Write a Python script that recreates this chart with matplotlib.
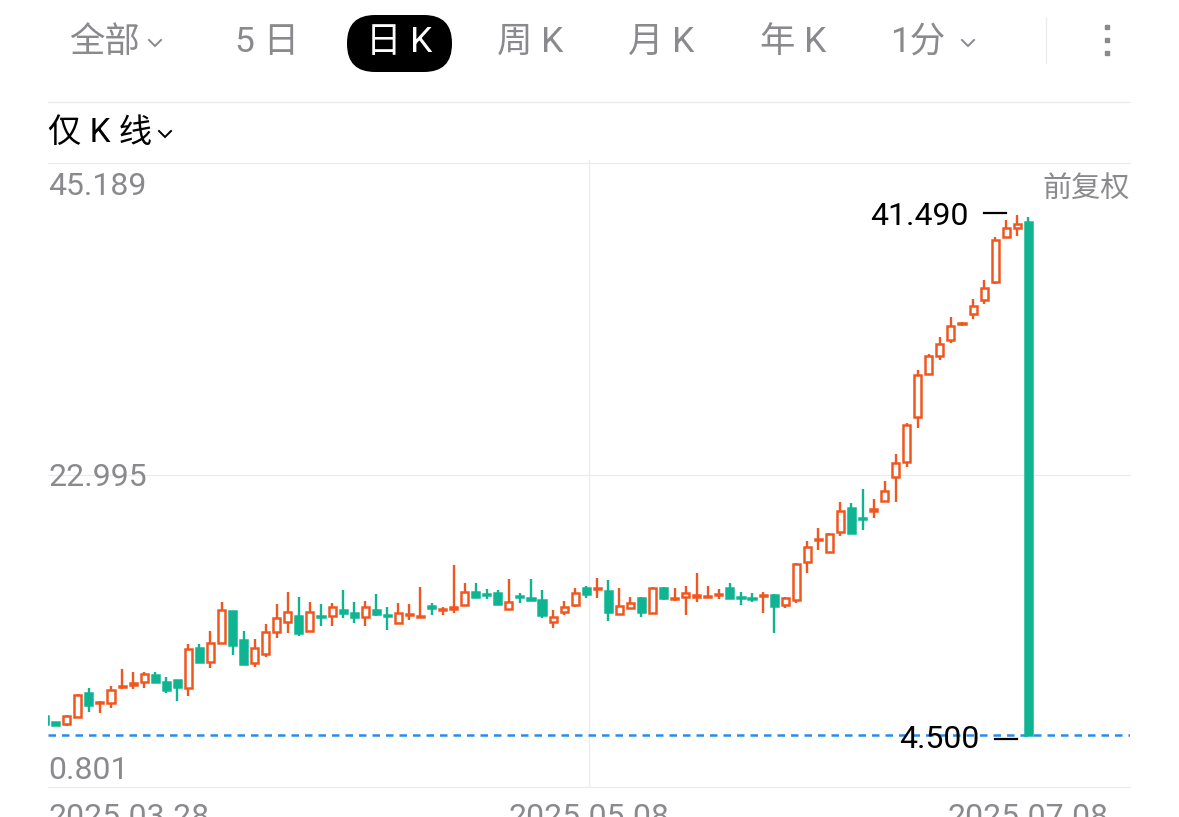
import numpy as np
import matplotlib
matplotlib.use("Agg")
import matplotlib.pyplot as plt
import matplotlib.transforms as mtransforms
from matplotlib.patches import Rectangle, FancyBboxPatch

plt.rcParams['font.family'] = ['Roboto', 'Noto Sans CJK SC', 'DejaVu Sans']

# daily candles (forward adjusted), first one is half hidden at the left edge
opens = [5.85, 5.42, 5.28, 5.80, 7.46, 6.78, 6.75, 7.91, 8.09, 8.29,
         8.77, 8.29, 8.41, 7.82, 10.66, 9.71, 11.06, 13.32, 11.25, 9.60,
         10.26, 11.84, 12.56, 12.96, 11.89, 13.00, 12.96, 13.39, 13.15, 12.91,
         13.39, 13.07, 12.44, 13.03, 12.89, 13.67, 13.39, 13.49, 13.74, 14.69,
         14.56, 14.62, 13.46, 14.42, 14.24, 14.10, 12.56, 13.27, 13.74, 14.97,
         14.88, 14.74, 13.08, 13.51, 14.22, 13.15, 14.97, 14.17, 14.31, 14.35,
         14.35, 14.45, 14.93, 14.31, 14.26, 14.38, 14.45, 13.74, 14.10, 16.82,
         18.36, 17.53, 18.95, 20.62, 19.96, 20.46, 21.16, 22.82, 23.93, 27.09,
         30.17, 31.45, 32.63, 33.72, 34.43, 35.43, 36.73, 39.89, 40.60, 41.00]
highs = [5.92, 5.45, 5.92, 7.39, 7.86, 6.94, 7.98, 9.19, 8.96, 9.00,
         9.00, 8.65, 8.41, 10.95, 10.95, 11.89, 13.94, 13.32, 11.89, 11.30,
         12.39, 13.81, 14.69, 14.29, 13.98, 13.81, 13.91, 14.81, 13.98, 14.05,
         14.50, 13.62, 13.91, 13.81, 15.04, 13.91, 13.58, 16.59, 15.33, 15.29,
         14.86, 14.81, 15.57, 14.58, 15.59, 14.81, 13.39, 14.03, 14.97, 15.12,
         15.64, 15.52, 14.93, 14.33, 14.33, 15.04, 15.04, 14.93, 15.12, 16.00,
         15.12, 14.88, 15.29, 14.69, 14.58, 14.69, 14.50, 14.33, 16.71, 18.31,
         19.20, 18.88, 21.09, 20.97, 21.97, 21.26, 22.58, 24.48, 26.66, 30.45,
         31.59, 32.78, 34.20, 33.89, 35.48, 36.90, 39.93, 41.12, 41.49, 41.35]
lows = [5.21, 5.20, 5.16, 5.76, 6.16, 6.09, 6.44, 7.75, 7.75, 7.86,
        8.18, 7.51, 6.94, 7.29, 9.60, 9.29, 11.06, 10.19, 9.50, 9.31,
        10.07, 11.38, 11.73, 11.54, 11.85, 12.25, 12.25, 12.80, 12.48, 12.25,
        12.96, 11.97, 12.39, 12.68, 12.87, 13.03, 13.03, 13.15, 13.74, 14.29,
        14.15, 13.81, 13.46, 13.86, 14.10, 12.84, 12.09, 13.01, 13.62, 14.22,
        14.22, 12.61, 13.08, 13.51, 12.91, 13.08, 14.10, 14.03, 13.03, 13.98,
        14.33, 14.17, 14.26, 13.74, 13.98, 13.15, 11.73, 13.51, 13.86, 16.04,
        17.65, 17.53, 18.65, 18.79, 19.08, 19.91, 21.09, 21.09, 23.58, 26.31,
        30.10, 31.16, 32.35, 33.58, 34.06, 35.19, 36.57, 39.82, 39.98, 4.50]
closes = [5.25, 5.22, 5.85, 7.34, 6.63, 6.85, 7.70, 8.02, 8.20, 8.82,
          8.29, 7.70, 7.93, 10.59, 9.71, 11.02, 13.39, 10.90, 9.55, 10.66,
          11.84, 12.80, 13.27, 11.77, 13.27, 12.89, 13.58, 13.15, 12.91, 13.62,
          13.10, 12.96, 13.15, 13.14, 13.00, 13.56, 13.46, 13.60, 14.69, 14.29,
          14.45, 13.81, 13.98, 14.35, 14.13, 13.03, 12.91, 13.62, 14.58, 14.50,
          14.99, 13.27, 13.69, 13.86, 13.27, 14.97, 14.22, 14.28, 14.58, 14.45,
          14.42, 14.56, 14.26, 14.21, 14.17, 14.49, 13.69, 14.22, 16.66, 17.85,
          18.47, 18.79, 20.45, 18.84, 19.86, 20.60, 21.87, 23.86, 26.54, 30.10,
          31.45, 32.30, 33.58, 33.83, 35.00, 36.33, 39.74, 40.53, 40.88, 4.50]
date_labels = ["2025.03.28", "2025.05.08", "2025.07.08"]
y_min, y_max = 0.801, 45.189
tabs = ["全部", "5 日", "日 K", "周 K", "月 K", "年 K", "1分"]

UP = '#F0561E'
DOWN = '#0FB593'
GRAY = '#8A8A8E'
LINE = '#EBEBEB'

W, H = 1179, 817
fig = plt.figure(figsize=(W / 100, H / 100), dpi=100)

# pixel overlay for the tab bar and separators
ov = fig.add_axes([0, 0, 1, 1])
ov.set_xlim(0, W)
ov.set_ylim(H, 0)
ov.axis('off')

ax = fig.add_axes([48 / W, 1 - 787 / H, (1130 - 48) / W, (787 - 163) / H])
ax.axis('off')
ax.set_zorder(2)

xs = np.arange(-1, len(opens) - 1)
ax.set_xlim(-0.70, 97.2)
ax.set_ylim(y_min, y_max)

# grid
for yv in [y_max, (y_max + y_min) / 2, y_min]:
    ax.axhline(yv, color=LINE, lw=0.9, clip_on=False, zorder=0)
ax.plot([0.5, 0.5], [0, 1.005], transform=ax.transAxes, color=LINE, lw=0.9,
        clip_on=False, zorder=0)

# candles
cols = [UP if c >= o else DOWN for o, c in zip(opens, closes)]
ax.vlines(xs, lows, highs, colors=cols, lw=1.7, zorder=2)
bw = 0.64
for x, o, c, col in zip(xs, opens, closes, cols):
    bot = min(o, c)
    h = max(abs(c - o), 0.04)
    face = 'white' if col == UP else col
    ax.add_patch(Rectangle((x - bw / 2, bot), bw, h, facecolor=face,
                           edgecolor=col, lw=1.8, joinstyle='miter', zorder=3))

# last price line
ax.axhline(closes[-1], color='#2B8CE8', lw=1.8, dashes=(3.0, 2.4), zorder=1)

# y labels
ax.text(0.0, 0.985, f"{y_max:.3f}", transform=ax.transAxes, ha='left', va='top',
        fontsize=23, color=GRAY)
ax.text(0.0, 0.496, f"{(y_max + y_min) / 2:.3f}", transform=ax.transAxes,
        ha='left', va='center', fontsize=23, color=GRAY)
ax.text(0.0, 0.004, f"{y_min:.3f}", transform=ax.transAxes, ha='left',
        va='bottom', fontsize=23, color=GRAY)
ax.text(1.0, 0.981, "前复权", transform=ax.transAxes, ha='right', va='top',
        fontsize=21, color=GRAY)

# high / low markers
i_hi = int(np.argmax(highs))
i_lo = int(np.argmin(lows))
x_hi, x_lo = xs[i_hi], xs[i_lo]
ax.plot([x_hi - 3, x_hi - 1], [highs[i_hi]] * 2, color='black', lw=1.6,
        zorder=4, transform=mtransforms.offset_copy(ax.transData, fig, y=2, units='dots'))
ax.text(x_hi - 4.4, highs[i_hi], f"{highs[i_hi]:.3f}", ha='right', va='center',
        fontsize=23, color='black',
        transform=mtransforms.offset_copy(ax.transData, fig, y=-2, units='dots'))
lo_tr = mtransforms.offset_copy(ax.transData, fig, y=-4, units='dots')
ax.plot([x_lo - 3, x_lo - 1], [lows[i_lo]] * 2, color='black', lw=1.6,
        zorder=4, transform=lo_tr)
ax.text(x_lo - 4.4, lows[i_lo], f"{lows[i_lo]:.3f}", ha='right', va='center',
        fontsize=23, color='black', transform=lo_tr, zorder=5)

# date labels, cut by the bottom edge as in the app screenshot
date_y = -(803 - 787) / (787 - 163)
ax.text(0.0, date_y, date_labels[0], transform=ax.transAxes, ha='left',
        va='top', fontsize=23, color=GRAY, clip_on=False)
ax.text(0.5, date_y, date_labels[1], transform=ax.transAxes, ha='center',
        va='top', fontsize=23, color=GRAY, clip_on=False)
ax.text(xs[-1], date_y, date_labels[2],
        transform=mtransforms.blended_transform_factory(ax.transData, ax.transAxes),
        ha='center', va='top', fontsize=23, color=GRAY, clip_on=False)

# tab bar
tab_x = [104, 267, 399, 530, 661, 793, 918]
for t, x in zip(tabs, tab_x):
    ov.text(x, 42, t, ha='center', va='center', fontsize=25.5,
            color='white' if t == "日 K" else GRAY, zorder=5)
ov.add_patch(FancyBboxPatch((347, 15), 105, 57, boxstyle="round,pad=0,rounding_size=28",
                            facecolor='black', edgecolor='none', zorder=4))
for cx, cy, col in [(155, 43, GRAY), (968, 43, GRAY), (165, 134, 'black')]:
    ov.plot([cx - 6, cx, cx + 6], [cy - 3, cy + 3, cy - 3], color=col, lw=1.4,
            solid_joinstyle='miter')
ov.plot([1046, 1046], [18, 63], color=LINE, lw=1)
ov.plot([1107, 1107, 1107], [27, 40, 53], 's', color=GRAY, ms=3.5)
ov.plot([48, 1130], [102, 102], color=LINE, lw=0.9)
ov.text(48, 133, "仅 K 线", ha='left', va='center', fontsize=24, color='black')

fig.savefig("out.png", dpi=100)
